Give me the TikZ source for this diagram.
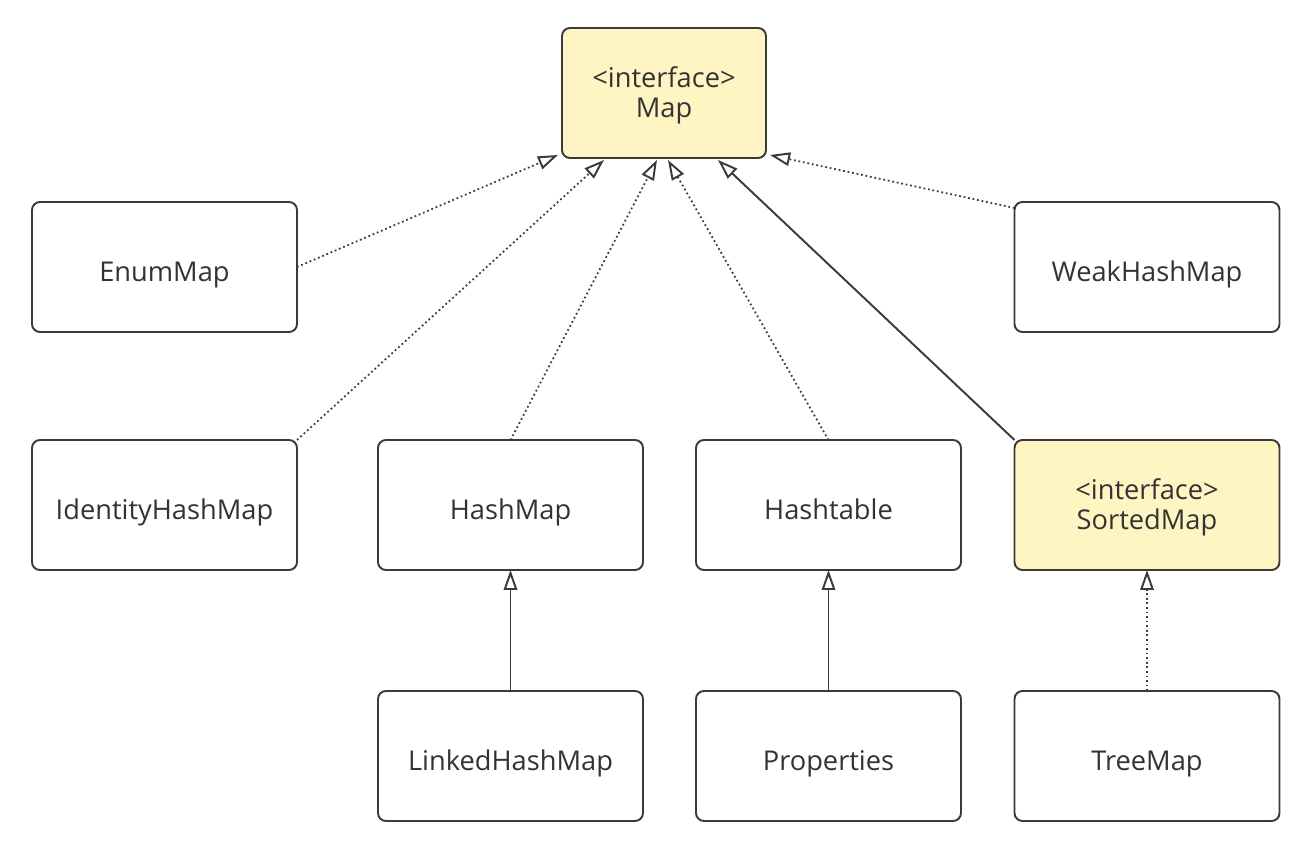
\documentclass[tikz,border=0pt]{standalone}
\usepackage{fontspec}
\setmainfont{Open Sans}
\usetikzlibrary{arrows.meta}

\definecolor{ifacefill}{HTML}{FFF5C2}
\definecolor{boxline}{HTML}{3A3A3A}
\definecolor{boxtext}{HTML}{333333}

\tikzset{
    cls/.style={draw=boxline, line width=1.1pt, rounded corners=0.16cm,
        fill=white, minimum width=5.3cm, minimum height=2.6cm,
        inner sep=0pt, outer sep=0pt, align=center, text=boxtext,
        text height=0.6cm, text depth=0pt,
        font=\fontsize{15.5}{17.6}\selectfont},
    iface/.style={cls, fill=ifacefill, text height=1.0cm},
    impl/.style={draw=boxline, line width=1pt, dash pattern=on 1pt off 1.6pt,
        -{Triangle[open, length=0.4cm, width=0.27cm, line width=1.1pt]}},
    ext/.style={draw=boxline, line width=1.1pt,
        -{Triangle[open, length=0.4cm, width=0.27cm, line width=1.1pt]}}
}

\begin{document}
\begin{tikzpicture}
            \useasboundingbox (0,0) rectangle (26.12,16.92);
            % classes
            \node [iface, minimum width=4.08cm] (map) at (13.28,15.06)
                {<interface>\\Map};
            \node [cls] (enum) at (3.29,11.58) {EnumMap};
            \node [cls] (weak) at (22.94,11.58) {WeakHashMap};
            \node [cls] (ident) at (3.29,6.82) {IdentityHashMap};
            \node [cls] (hash) at (10.21,6.82) {HashMap};
            \node [cls] (table) at (16.57,6.82) {Hashtable};
            \node [iface] (sorted) at (22.94,6.82) {<interface>\\SortedMap};
            \node [cls] (linked) at (10.21,1.80) {LinkedHashMap};
            \node [cls] (props) at (16.57,1.80) {Properties};
            \node [cls] (tree) at (22.94,1.80) {TreeMap};
            % implements Map
            \draw [impl] (enum.east) -- ([xshift=-0.08cm,yshift=0.06cm]map.south west);
            \draw [impl] (ident.north east) -- ([xshift=-1.2cm,yshift=-0.04cm]map.south);
            \draw [impl] (hash.north) -- ([xshift=-0.14cm,yshift=-0.04cm]map.south);
            \draw [impl] (table.north) -- ([xshift=0.08cm,yshift=-0.04cm]map.south);
            \draw [impl] ([yshift=-0.12cm]weak.north west) -- ([xshift=0.08cm,yshift=0.06cm]map.south east);
            % extends
            \draw [ext] (sorted.north west) -- ([xshift=1.08cm,yshift=-0.04cm]map.south);
            \draw [ext] (linked.north) -- (hash.south);
            \draw [ext] (props.north) -- (table.south);
            \draw [impl] (tree.north) -- (sorted.south);
        \end{tikzpicture}
\end{document}
